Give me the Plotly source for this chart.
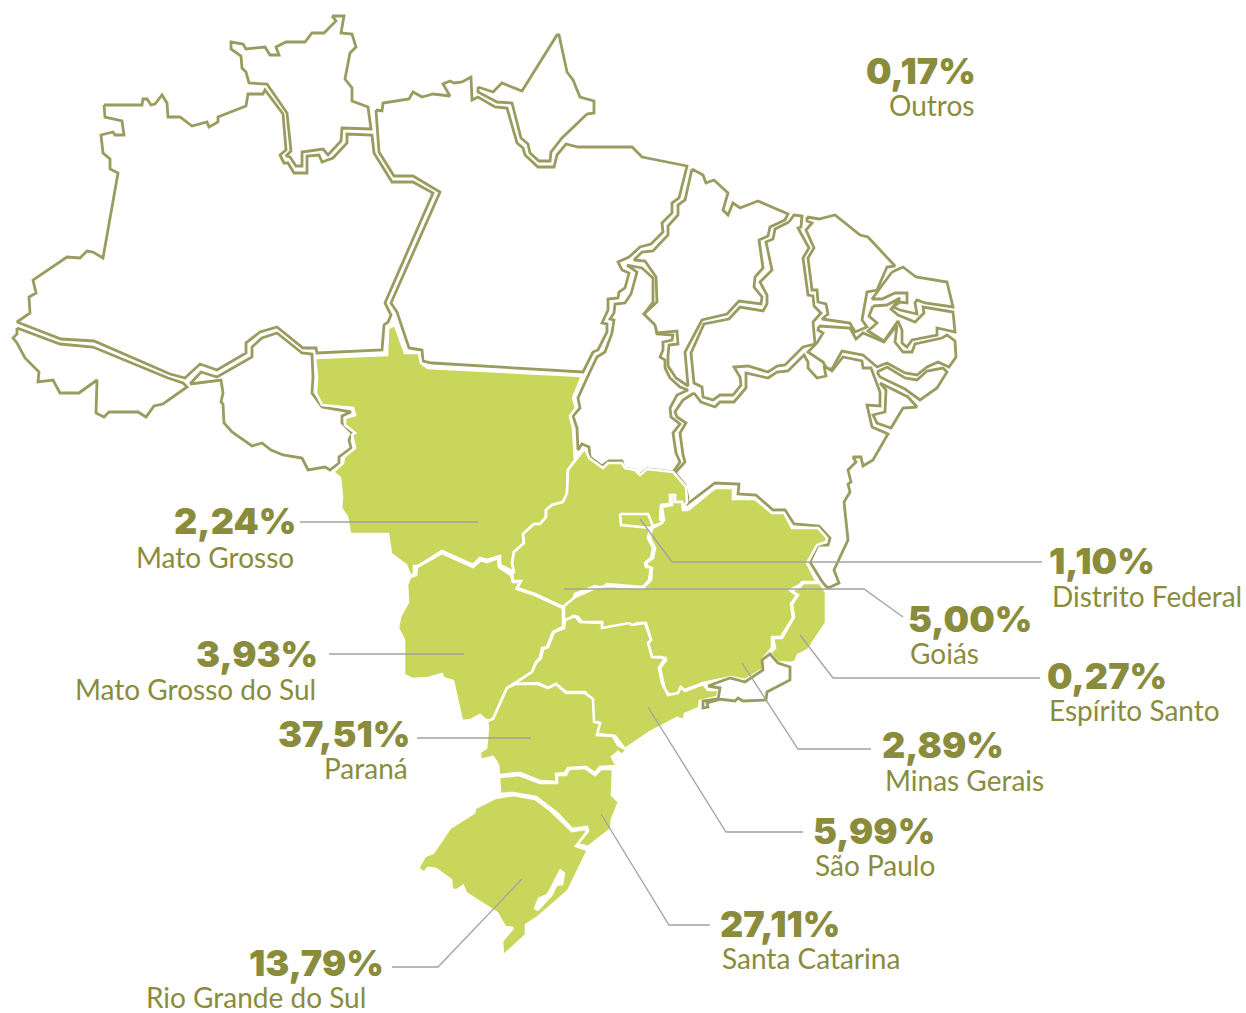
import plotly.graph_objects as go

# State outlines (image pixel space)
RORAIMA = [(332,16),(344,16),(341,33),(352,34),(356,47),(350,53),(345,79),(352,88),(352,101),(368,107),(371,129),(342,128),(341,141),(328,155),(323,149),(302,152),(302,166),(296,166),(290,157),(286,156),(291,151),(287,113),(267,84),(249,83),(246,72),(242,68),(241,56),(231,49),(231,42),(243,44),(246,49),(265,47),(270,55),(279,55),(276,47),(286,42),(305,42),(312,33),(324,33),(336,21)]
AMAZONAS = [(104,105),(142,105),(143,99),(147,99),(151,105),(155,104),(162,95),(167,103),(168,117),(180,117),(192,126),(207,122),(209,127),(218,122),(218,117),(246,106),(248,94),(263,94),(265,90),(283,114),(286,150),(280,155),(284,163),(288,163),(294,173),(307,173),(307,156),(319,155),(322,162),(333,158),(347,143),(347,134),(372,135),(374,153),(392,182),(413,182),(433,193),(385,303),(391,315),(388,322),(384,325),(382,350),(317,353),(316,348),(303,348),(277,327),(260,332),(246,343),(246,353),(217,370),(200,364),(185,378),(170,374),(94,341),(61,339),(17,322),(30,313),(29,297),(36,293),(33,280),(67,257),(80,258),(87,251),(93,252),(103,258),(118,173),(110,169),(110,159),(103,153),(101,135),(113,132),(115,135),(124,135),(122,121),(105,117)]
ACRE = [(17,328),(17,334),(13,338),(17,343),(25,358),(39,372),(38,382),(53,380),(60,393),(79,393),(97,380),(96,413),(104,417),(109,412),(138,412),(146,417),(154,406),(163,404),(187,387),(183,383),(168,378),(93,347),(60,344)]
RONDONIA = [(190,384),(201,372),(217,377),(252,357),(252,347),(262,338),(277,333),(302,353),(312,354),(313,377),(312,393),(322,407),(351,412),(342,416),(342,423),(352,433),(349,440),(351,448),(339,457),(339,463),(330,470),(325,467),(308,470),(302,458),(283,455),(271,450),(262,443),(252,446),(232,432),(224,423),(223,404),(221,402),(223,393),(221,380)]
PARA = [(376,110),(382,111),(383,103),(409,99),(413,92),(422,97),(433,94),(450,96),(443,84),(450,81),(454,83),(462,82),(471,77),(472,100),(478,97),(495,107),(507,108),(517,143),(523,148),(525,155),(538,167),(554,167),(557,155),(566,144),(578,147),(632,147),(642,157),(687,166),(679,198),(672,203),(672,213),(662,223),(663,232),(651,244),(640,247),(629,257),(618,262),(622,270),(629,273),(625,288),(619,292),(618,298),(608,299),(608,310),(602,323),(607,324),(607,332),(598,350),(593,352),(583,372),(432,363),(423,361),(422,350),(409,348),(397,312),(391,303),(440,192),(413,176),(394,176),(379,152)]
AMAPA = [(478,87),(493,92),(502,83),(522,91),(557,35),(559,35),(567,72),(573,80),(580,97),(594,101),(594,113),(587,114),(562,138),(551,152),(550,161),(539,161),(530,153),(528,144),(521,138),(512,103),(497,102),(478,92)]
TOCANTINS = [(627,265),(642,268),(653,278),(653,302),(644,314),(655,324),(657,334),(673,335),(672,340),(663,342),(663,350),(660,357),(665,360),(665,368),(670,378),(680,387),(688,390),(677,395),(670,408),(671,417),(680,424),(673,433),(676,453),(680,462),(673,472),(647,469),(639,475),(635,470),(624,468),(622,461),(609,461),(602,466),(590,457),(589,447),(582,444),(578,450),(577,428),(573,416),(580,408),(578,398),(587,378),(597,357),(605,352),(612,333),(614,320),(610,319),(614,313),(615,304),(625,303),(631,294),(637,272)]
MARANHAO = [(692,169),(703,175),(706,183),(714,180),(728,193),(723,210),(728,215),(733,203),(740,208),(758,201),(788,214),(785,220),(770,227),(768,236),(759,240),(763,268),(755,277),(754,287),(762,297),(761,304),(739,301),(727,314),(702,320),(685,352),(688,386),(676,378),(668,366),(668,355),(669,345),(678,344),(677,331),(657,333),(655,325),(644,314),(657,302),(656,277),(645,261),(634,260),(642,252),(653,251),(668,235),(668,226),(678,215),(678,205),(685,200)]
PIAUI = [(789,222),(775,229),(773,239),(766,242),(772,270),(760,282),(767,295),(767,304),(763,311),(740,307),(729,319),(704,324),(691,353),(694,383),(702,387),(703,397),(713,400),(720,395),(733,395),(741,385),(740,377),(734,367),(748,366),(768,372),(777,366),(785,365),(803,347),(815,344),(813,322),(821,313),(814,306),(813,296),(808,295),(803,258),(809,248),(798,228),(801,227),(802,216),(794,215)]
CEARA = [(807,217),(819,219),(835,215),(860,235),(868,237),(895,266),(887,267),(877,290),(867,292),(862,320),(867,327),(855,332),(850,323),(822,319),(828,314),(826,304),(818,302),(817,290),(812,290),(808,258),(814,248),(806,230),(812,223),(807,221)]
RIO_GRANDE_NORTE = [(892,272),(903,267),(916,277),(947,282),(953,307),(925,303),(917,300),(915,303),(917,314),(900,310),(893,307),(900,302),(907,303),(907,293),(895,293),(882,299),(872,299),(880,288)]
PARAIBA = [(873,306),(887,305),(900,298),(891,309),(898,315),(915,322),(924,313),(923,307),(953,312),(955,332),(937,328),(937,335),(912,340),(907,347),(902,343),(902,330),(898,321),(884,341),(868,331),(877,323),(869,316)]
PERNAMBUCO = [(819,326),(850,328),(856,339),(863,333),(884,342),(897,325),(895,342),(903,352),(912,352),(915,344),(942,338),(947,335),(955,341),(956,357),(949,367),(938,362),(927,367),(917,375),(905,373),(887,363),(877,367),(863,355),(842,351),(832,369),(827,369),(823,362),(808,352),(817,343),(823,333),(818,330)]
ALAGOAS = [(877,372),(887,367),(905,378),(917,380),(927,371),(943,368),(947,372),(937,388),(920,400),(905,389),(880,377)]
SERGIPE = [(880,383),(908,397),(917,407),(903,408),(891,428),(877,423),(873,415),(885,412),(886,390)]
BAHIA = [(694,393),(701,402),(715,407),(720,402),(734,402),(746,388),(746,373),(768,378),(777,372),(788,371),(804,355),(808,362),(808,368),(817,378),(826,376),(824,366),(832,371),(843,357),(862,361),(863,368),(871,368),(880,392),(880,406),(867,405),(872,427),(888,434),(873,460),(863,466),(861,457),(853,457),(856,462),(848,470),(851,482),(848,484),(850,492),(844,502),(848,540),(834,570),(839,583),(828,588),(823,583),(810,562),(818,545),(828,545),(830,538),(819,526),(794,524),(785,510),(773,510),(756,495),(738,494),(739,484),(715,483),(686,505),(688,498),(685,485),(675,473),(685,462),(683,455),(680,433),(686,423),(677,417),(675,412),(683,400)]
RIO_DE_JANEIRO = [(708,686),(730,678),(745,682),(763,670),(762,660),(770,654),(778,663),(790,667),(790,680),(767,692),(766,700),(743,701),(738,698),(735,701),(718,699),(703,701),(703,708),(708,707),(707,703),(718,700),(720,688)]

MATO_GROSSO = [(315,358),(387,355),(388,328),(395,325),(405,353),(419,353),(421,363),(428,368),(582,376),(573,398),(576,408),(570,416),(573,428),(575,460),(568,470),(567,493),(563,502),(552,505),(546,510),(546,517),(540,524),(534,524),(523,534),(524,543),(514,552),(512,563),(514,572),(500,565),(500,556),(487,560),(480,558),(473,565),(442,551),(418,566),(414,566),(414,575),(410,575),(406,565),(391,554),(388,534),(350,534),(347,517),(341,508),(342,497),(340,478),(333,472),(343,463),(344,457),(355,448),(352,435),(355,433),(345,425),(345,418),(355,415),(353,408),(322,405),(316,393),(317,377)]
MATO_GROSSO_SUL = [(410,577),(416,575),(417,567),(442,553),(473,567),(481,560),(487,562),(498,558),(499,567),(511,575),(513,582),(520,582),(517,589),(535,595),(563,608),(563,627),(553,632),(547,647),(542,648),(540,658),(536,662),(532,672),(507,688),(493,719),(487,721),(480,715),(471,720),(462,721),(453,681),(443,678),(442,674),(428,678),(412,679),(404,675),(404,640),(398,628),(400,617),(408,602),(407,585)]
GOIAS = [(585,448),(589,458),(603,468),(608,463),(622,463),(625,468),(635,470),(640,475),(647,469),(673,472),(686,487),(687,502),(683,508),(682,502),(675,502),(673,495),(670,495),(670,504),(661,505),(660,519),(663,522),(660,524),(653,526),(650,529),(648,538),(653,548),(651,558),(645,563),(646,567),(651,567),(649,580),(643,587),(607,584),(602,588),(595,586),(575,594),(573,600),(563,607),(535,594),(517,588),(521,581),(513,581),(512,573),(514,572),(512,563),(514,552),(524,543),(523,534),(534,524),(540,524),(546,517),(546,510),(552,505),(563,502),(567,493),(568,470)]
DISTRITO_FEDERAL = [(620,514),(648,514),(653,526),(650,528),(621,525)]
MINAS_GERAIS = [(688,510),(715,488),(733,488),(733,499),(755,499),(772,513),(784,513),(792,528),(818,528),(827,538),(826,542),(817,545),(810,558),(807,563),(817,582),(802,582),(800,585),(790,590),(797,595),(791,604),(793,618),(781,637),(772,637),(772,648),(762,660),(763,669),(745,680),(731,677),(703,683),(685,690),(680,688),(678,694),(670,695),(665,690),(660,668),(666,660),(662,657),(652,657),(648,643),(651,640),(646,623),(638,623),(631,626),(602,629),(602,622),(582,622),(578,617),(573,616),(564,623),(564,606),(575,597),(595,588),(607,586),(643,588),(651,580),(652,568),(647,566),(646,563),(653,558),(655,548),(650,538),(652,528),(662,523),(664,520),(662,507),(672,505),(672,495),(675,495),(675,502),(682,502),(683,510)]
ESPIRITO_SANTO = [(791,591),(800,587),(803,583),(820,583),(826,592),(826,623),(808,650),(798,655),(795,662),(790,663),(778,662),(770,653),(775,648),(773,638),(782,638),(794,617),(792,604),(798,595)]
SAO_PAULO = [(565,620),(575,616),(580,622),(602,623),(602,628),(629,623),(632,625),(645,623),(651,640),(648,643),(652,657),(665,658),(659,668),(662,683),(668,695),(678,693),(681,687),(685,691),(703,684),(708,690),(719,690),(717,697),(700,701),(699,708),(685,714),(684,720),(677,718),(662,726),(650,732),(628,747),(625,749),(615,736),(597,734),(595,723),(599,722),(593,723),(592,700),(585,692),(566,692),(556,684),(548,688),(538,683),(515,684),(511,686),(532,672),(536,663),(541,658),(543,649),(548,647),(554,632),(564,628)]
PARANA = [(515,684),(538,684),(548,688),(556,684),(566,693),(585,693),(593,699),(594,722),(600,723),(597,735),(613,736),(618,745),(627,750),(622,755),(618,752),(612,757),(617,766),(600,767),(595,773),(586,767),(568,768),(565,773),(556,774),(557,782),(540,781),(520,773),(499,775),(498,765),(493,757),(480,760),(480,752),(486,748),(488,728),(487,721),(493,719),(507,688)]
SANTA_CATARINA = [(499,777),(519,775),(540,783),(557,783),(557,775),(566,775),(569,769),(585,768),(595,775),(601,769),(613,769),(612,795),(619,802),(612,819),(611,829),(600,838),(588,847),(577,844),(588,831),(587,827),(572,829),(557,813),(536,797),(513,793),(500,794)]
RIO_GRANDE_SUL = [(495,798),(513,795),(535,799),(550,810),(572,831),(585,829),(587,832),(576,846),(588,850),(568,891),(538,917),(535,919),(526,925),(526,935),(503,956),(502,941),(513,928),(505,927),(497,913),(466,893),(463,886),(457,890),(452,890),(451,880),(436,869),(428,868),(424,873),(418,868),(425,856),(433,853),(450,828),(474,813),(475,808)]
LAGOA = [(560,869),(565,873),(563,885),(557,886),(552,896),(538,911),(534,909),(538,898),(547,894)]

OUTLINE_STATES = [RORAIMA, AMAZONAS, ACRE, RONDONIA, PARA, AMAPA, TOCANTINS, MARANHAO, PIAUI, CEARA,
                  RIO_GRANDE_NORTE, PARAIBA, PERNAMBUCO, ALAGOAS, SERGIPE, BAHIA]
SHARE_STATES = [MATO_GROSSO, MATO_GROSSO_SUL, GOIAS, MINAS_GERAIS, ESPIRITO_SANTO, SAO_PAULO,
                PARANA, SANTA_CATARINA, RIO_GRANDE_SUL, DISTRITO_FEDERAL]

# Leader lines
LEADERS = [
    [(300,522),(478,522)],
    [(329,654),(464,654)],
    [(417,738),(531,738)],
    [(392,967),(438,967),(522,879)],
    [(601,814),(669,925),(710,925)],
    [(648,707),(726,832),(803,832)],
    [(742,663),(798,749),(871,749)],
    [(800,635),(833,678),(1040,678)],
    [(564,589),(864,589),(903,617)],
    [(640,519),(672,562),(1042,562)],
]

# Labels
STATE_NAMES = ["Outros","Mato Grosso","Mato Grosso do Sul","Paraná","Rio Grande do Sul","Distrito Federal","Goiás","Espírito Santo","Minas Gerais","São Paulo","Santa Catarina"]
SHARES = ["0,17%","2,24%","3,93%","37,51%","13,79%","1,10%","5,00%","0,27%","2,89%","5,99%","27,11%"]
SHARE_X = [977,297,319,411,385,1048,907,1046,881,812,719]
SHARE_Y = [71,521,654,734,963,561,619,676,745,831,924]
NAME_X = [975,295,317,409,367,1051,909,1048,884,814,721]
NAME_Y = [105,557,689,768,997,596,653,710,780,865,958]
ANCHOR = ["right","right","right","right","right","left","left","left","left","left","left"]

OLIVE = "#9a9c5f"
GREEN = "#c8d65c"
GREY = "#a2a2a2"
TEXT = "#8a8c3c"

def xs(p, close=True):
    return [c[0] for c in p] + ([p[0][0]] if close else [])
def ys(p, close=True):
    return [c[1] for c in p] + ([p[0][1]] if close else [])

fig = go.Figure()
for poly in OUTLINE_STATES:
    fig.add_trace(go.Scatter(x=xs(poly), y=ys(poly), mode="lines", fill="toself", fillcolor="white",
                             line=dict(color=OLIVE, width=2.8), hoverinfo="skip"))
for poly in SHARE_STATES:
    fig.add_trace(go.Scatter(x=xs(poly), y=ys(poly), mode="lines", fill="toself", fillcolor=GREEN,
                             line=dict(color="white", width=2.6), hoverinfo="skip"))
fig.add_trace(go.Scatter(x=xs(RIO_DE_JANEIRO), y=ys(RIO_DE_JANEIRO), mode="lines", fill="toself", fillcolor="white",
                         line=dict(color=OLIVE, width=2.8), hoverinfo="skip"))
fig.add_trace(go.Scatter(x=xs(LAGOA), y=ys(LAGOA), mode="lines", fill="toself", fillcolor="white",
                         line=dict(color="white", width=0.5), hoverinfo="skip"))
for seg in LEADERS:
    fig.add_trace(go.Scatter(x=xs(seg, False), y=ys(seg, False), mode="lines",
                             line=dict(color=GREY, width=1.3), hoverinfo="skip"))

for i, name in enumerate(STATE_NAMES):
    fig.add_annotation(x=SHARE_X[i], y=SHARE_Y[i], text=SHARES[i], showarrow=False, xanchor=ANCHOR[i], yanchor="middle",
                       borderpad=0, font=dict(family="Inter", size=36, color=TEXT, weight=900))
    fig.add_annotation(x=NAME_X[i], y=NAME_Y[i], text=name, showarrow=False, xanchor=ANCHOR[i], yanchor="middle",
                       borderpad=0, font=dict(family="Lato", size=28, color=TEXT, weight=400))

fig.update_layout(width=1246, height=1013, autosize=False, margin=dict(l=0, r=0, t=0, b=0),
                  paper_bgcolor="white", plot_bgcolor="white", showlegend=False,
                  xaxis=dict(range=[0,1246], visible=False, fixedrange=True),
                  yaxis=dict(range=[1013,0], visible=False, fixedrange=True))
fig.write_html("out.html", config={"displayModeBar": False},
               post_script="document.body.style.margin='0';document.body.style.overflow='hidden';")
